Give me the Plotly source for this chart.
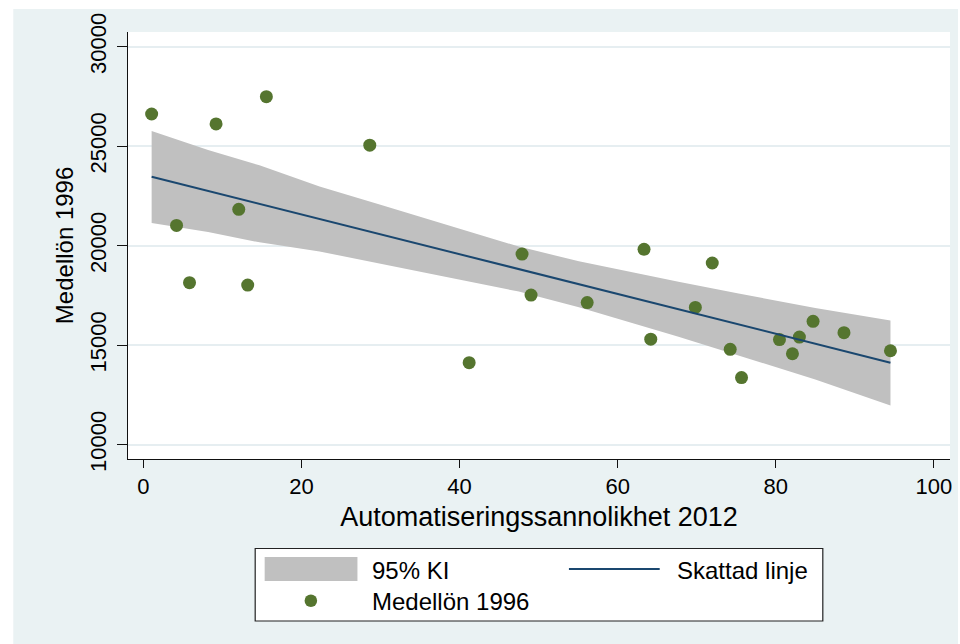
import plotly.graph_objects as go

# ---- data ----
autom_2012 = [1.06, 15.57, 9.21, 28.65, 12.08, 4.21, 5.85, 13.21, 47.91, 63.34, 71.97, 49.05,
              56.15, 69.83, 41.22, 64.19, 74.24, 75.67, 80.47, 82.11, 82.99, 84.72, 88.63, 94.51]
medellon_1996 = [26620, 27490, 26120, 25050, 21830, 21020, 18140, 18020, 19580, 19820, 19130, 17520,
                 17140, 16900, 14120, 15300, 14790, 13370, 15280, 14570, 15410, 16200, 15630, 14720]

fit_x = [1.06, 94.51]
fit_y = [23467, 14122]

ci_x = [1.06, 8.2, 14.7, 22.3, 29.9, 37.4, 47.5, 55.1, 67.7, 75.3, 85.0, 94.51]
ci_upper = [25770, 24813, 24038, 22976, 22065, 21165, 19954, 19219, 18185, 17601, 16867, 16240]
ci_lower = [21140, 20693, 20168, 19710, 19101, 18501, 17692, 16907, 15421, 14485, 13279, 11975]

x_ticks = [0, 20, 40, 60, 80, 100]
y_ticks = [10000, 15000, 20000, 25000, 30000]

x_title = "Automatiseringssannolikhet 2012"
y_title = "Medellön 1996"
legend_labels = ["95% KI", "Skattad linje", "Medellön 1996"]

# ---- styling ----
W, H = 960, 644
ML, MR, MT, MB = 128, 8, 32, 185
PW, PH = W - ML - MR, H - MT - MB
BG = "#EAF2F3"
GRID = "#E6EEF1"
BAND = "#C0C0C0"
NAVY = "#1A476F"
GREEN = "#55752F"
FONT = "Liberation Sans, Arial, sans-serif"


def px(x):
    return (x - ML) / PW


def py(y):
    return (H - MB - y) / PH


fig = go.Figure()

fig.add_trace(go.Scatter(
    x=ci_x + ci_x[::-1], y=ci_upper + ci_lower[::-1],
    fill="toself", fillcolor=BAND, mode="lines", line=dict(width=0, color=BAND),
    name=legend_labels[0], showlegend=False, hoverinfo="skip"))

fig.add_trace(go.Scatter(
    x=autom_2012, y=medellon_1996, mode="markers",
    marker=dict(color=GREEN, size=13, line=dict(width=0)),
    name=legend_labels[2], showlegend=False))

fig.add_trace(go.Scatter(
    x=fit_x, y=fit_y, mode="lines", line=dict(color=NAVY, width=2),
    name=legend_labels[1], showlegend=False))

shapes = [
    # outer graph region background
    dict(type="rect", xref="paper", yref="paper", x0=px(13), x1=px(960), y0=py(644), y1=py(9),
         fillcolor=BG, line=dict(width=0), layer="below"),
    # plot region
    dict(type="rect", xref="paper", yref="paper", x0=0, x1=1, y0=0, y1=1,
         fillcolor="white", line=dict(width=0), layer="below"),
    # legend box
    dict(type="rect", xref="paper", yref="paper", x0=px(255.5), x1=px(824.5), y0=py(621), y1=py(548.5),
         fillcolor="white", line=dict(width=1.2, color="#222222"), layer="above"),
    # legend: band swatch
    dict(type="rect", xref="paper", yref="paper", x0=px(265), x1=px(358), y0=py(581), y1=py(557),
         fillcolor=BAND, line=dict(width=0), layer="above"),
    # legend: line swatch
    dict(type="line", xref="paper", yref="paper", x0=px(570), x1=px(661), y0=py(569), y1=py(569),
         line=dict(width=2, color=NAVY), layer="above"),
    # legend: marker swatch
    dict(type="circle", xref="paper", yref="paper", x0=px(305), x1=px(317.6), y0=py(607), y1=py(594.5),
         fillcolor=GREEN, line=dict(width=0), layer="above"),
]

annotations = [
    dict(text=y_title, x=px(64.5), y=py(245.5), xref="paper", yref="paper", textangle=-90,
         xanchor="center", yanchor="middle", showarrow=False, font=dict(size=24, color="black", family=FONT)),
    dict(text=legend_labels[0], x=px(371), y=py(570), xref="paper", yref="paper",
         xanchor="left", yanchor="middle", showarrow=False, font=dict(size=24, color="black", family=FONT)),
    dict(text=legend_labels[1], x=px(676), y=py(570), xref="paper", yref="paper",
         xanchor="left", yanchor="middle", showarrow=False, font=dict(size=24, color="black", family=FONT)),
    dict(text=legend_labels[2], x=px(371), y=py(601.5), xref="paper", yref="paper",
         xanchor="left", yanchor="middle", showarrow=False, font=dict(size=24, color="black", family=FONT)),
]

fig.update_layout(
    width=W, height=H,
    margin=dict(l=ML, r=MR, t=MT, b=MB, pad=0),
    paper_bgcolor="white", plot_bgcolor="rgba(0,0,0,0)",
    font=dict(family=FONT, color="black"),
    showlegend=False,
    shapes=shapes, annotations=annotations,
    xaxis=dict(
        range=[-1.93, 102.04], tickvals=x_ticks, ticktext=[str(v) for v in x_ticks],
        showgrid=False, zeroline=False, showline=True, linecolor="#111111", linewidth=1,
        ticks="outside", ticklen=8, tickwidth=1, tickcolor="#111111",
        tickfont=dict(size=22, family=FONT, color="black"),
        title=dict(text=x_title, font=dict(size=27, family=FONT, color="black"), standoff=8),
    ),
    yaxis=dict(
        range=[9280, 30740], tickvals=y_ticks, ticktext=[str(v) for v in y_ticks],
        showgrid=True, gridcolor=GRID, gridwidth=1.5, zeroline=False,
        showline=True, linecolor="#111111", linewidth=1,
        ticks="outside", ticklen=10, tickwidth=1, tickcolor="#111111",
        tickangle=-90, ticklabelstandoff=2,
        tickfont=dict(size=22, family=FONT, color="black"),
    ),
)

fig.write_html("out.html", post_script="document.body.style.margin='0';",
               config={"displayModeBar": False})
